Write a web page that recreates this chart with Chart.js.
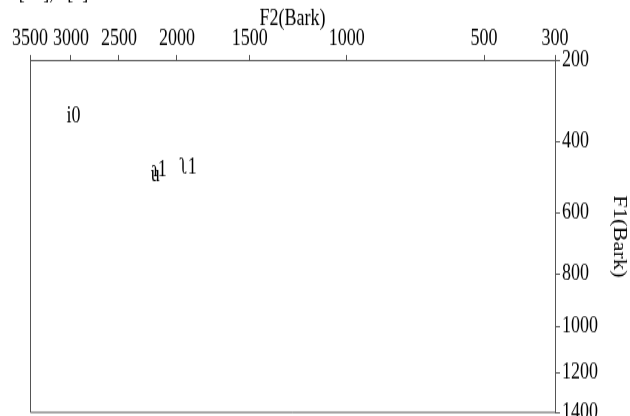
<!DOCTYPE html>
<html>
<head>
<meta charset="utf-8">
<script src="https://cdn.jsdelivr.net/npm/chart.js@4.4.1/dist/chart.umd.min.js"></script>
<style>
    html, body { margin: 0; padding: 0; background: white; }
    #wrap { width: 630px; height: 416px; overflow: hidden; }
    /* the source figure is stretched vertically, so draw short and stretch */
    #chart { display: block; transform-origin: 0 0; transform: scaleY(1.2492); }
</style>
</head>
<body>
<div id="wrap"><canvas id="chart" width="630" height="333"></canvas></div>
<script>
    // vowel labels and their formants in Hz
    const vowels = [`i0`, `ɿ1`, `u`, `ʅ1`]
    const f2Values = [2972, 2141, 2175, 1913]
    const f1Values = [335, 476, 490, 470]

    const f2Ticks = [3500, 3000, 2500, 2000, 1500, 1000, 500, 300]
    const f1Ticks = [200, 400, 600, 800, 1000, 1200, 1400]

    // Hz -> Bark (Schroeder)
    const bark = (hz) => 7 * Math.asinh(hz / 650)

    const serif = `"Liberation Serif", "DejaVu Serif", serif`
    const lineColor = `#555`

    const labelPlugin = {
        id: `vowelLabels`,
        afterDatasetsDraw(chart) {
            const ctx = chart.ctx
            const meta = chart.getDatasetMeta(0)
            ctx.save()
            ctx.font = `18px ${serif}`
            ctx.fillStyle = `#000`
            ctx.textAlign = `center`
            ctx.textBaseline = `middle`
            meta.data.forEach((pt, i) => ctx.fillText(vowels[i], pt.x, pt.y))
            ctx.restore()
        }
    }

    const framePlugin = {
        id: `frame`,
        beforeDatasetsDraw(chart) {
            const { ctx, chartArea: a } = chart
            ctx.save()
            ctx.strokeStyle = lineColor
            ctx.lineWidth = 1
            ctx.beginPath()
            ctx.moveTo(a.left + 0.5, a.top)
            ctx.lineTo(a.left + 0.5, a.bottom - 0.5)
            ctx.lineTo(a.right, a.bottom - 0.5)
            ctx.stroke()
            // cropped caption at the very top
            ctx.font = `18px ${serif}`
            ctx.fillStyle = `#000`
            ctx.textBaseline = `alphabetic`
            ctx.fillText(`ɿ/ʅ[ɿ ʅ], u[u]`, 0, -1.5)
            ctx.restore()
        }
    }

    new Chart(document.getElementById(`chart`), {
        type: `scatter`,
        data: {
            datasets: [{
                data: f2Values.map((v, i) => ({ x: bark(v), y: bark(f1Values[i]) })),
                pointRadius: 0,
                pointHoverRadius: 0
            }]
        },
        options: {
            responsive: false,
            animation: false,
            events: [],
            layout: { autoPadding: false, padding: { left: 30, top: 0, right: 0, bottom: 2.4 } },
            plugins: { legend: { display: false }, tooltip: { enabled: false } },
            scales: {
                x: {
                    type: `linear`,
                    position: `top`,
                    reverse: true,
                    min: bark(300),
                    max: bark(3500),
                    afterBuildTicks: (s) => { s.ticks = f2Ticks.map(v => ({ value: bark(v) })) },
                    afterFit: (s) => { s.height = 48; s.paddingLeft = 0; s.paddingRight = 0 },
                    ticks: {
                        autoSkip: false,
                        maxRotation: 0,
                        padding: 2,
                        color: `#000`,
                        font: { family: serif, size: 18 },
                        callback: (v, i) => f2Ticks[i]
                    },
                    grid: { drawOnChartArea: false, drawTicks: true, tickLength: 4, color: lineColor },
                    border: { display: true, color: lineColor, width: 1 },
                    title: {
                        display: true,
                        text: `F2(Bark)`,
                        color: `#000`,
                        font: { family: serif, size: 18 },
                        padding: { top: 4, bottom: 0 }
                    }
                },
                y: {
                    type: `linear`,
                    position: `right`,
                    reverse: true,
                    min: bark(200),
                    max: bark(1400),
                    afterBuildTicks: (s) => { s.ticks = f1Ticks.map(v => ({ value: bark(v) })) },
                    afterFit: (s) => { s.width = 75; s.paddingTop = 0; s.paddingBottom = 0 },
                    ticks: {
                        autoSkip: false,
                        padding: 2,
                        color: `#000`,
                        font: { family: serif, size: 18 },
                        callback: (v, i) => f1Ticks[i]
                    },
                    grid: { drawOnChartArea: false, drawTicks: true, tickLength: 5, color: lineColor },
                    border: { display: true, color: lineColor, width: 1 },
                    title: {
                        display: true,
                        text: `F1(Bark)`,
                        color: `#000`,
                        font: { family: serif, size: 18 },
                        padding: { top: 0, bottom: 0 }
                    }
                }
            }
        },
        plugins: [framePlugin, labelPlugin]
    })
</script>
</body>
</html>
